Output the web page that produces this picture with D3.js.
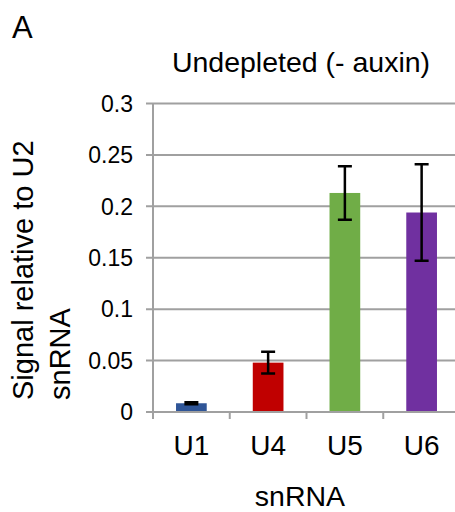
<!DOCTYPE html>
<html lang="en">
<head>
  <meta charset="UTF-8">
  <title>Undepleted (- auxin)</title>
  <script src="https://cdn.jsdelivr.net/npm/d3@7"></script>
  <style>
    body { margin: 0; background: #fff; }
    svg { display: block; font-family: 'Liberation Sans', Arial, sans-serif; }
  </style>
</head>
<body>
  <script>
    // values
    const categories = ["U1", "U4", "U5", "U6"];
    const values = [0.0085, 0.048, 0.213, 0.194];
    const errors = [0.0009, 0.0105, 0.026, 0.047];
    const colors = ["#2f5597", "#c00000", "#70ad47", "#7030a0"];
    const yTicks = [0, 0.05, 0.1, 0.15, 0.2, 0.25, 0.3];
    const yTickLabels = ["0", "0.05", "0.1", "0.15", "0.2", "0.25", "0.3"];

    const width = 455;
    const height = 512;
    const margin = {top: 103.5, right: -5, bottom: 100, left: 153};

    const svg = d3.create("svg")
        .attr("width", width)
        .attr("height", height);

    const x = d3.scaleBand()
        .domain(categories)
        .range([margin.left, width - margin.right])
        .paddingInner(0.6)
        .paddingOuter(0.3);

    const y = d3.scaleLinear()
        .domain([0, 0.3])
        .range([height - margin.bottom, margin.top]);

    const grid = "#a0a0a0";

    // gridlines + y ticks
    svg.append("g")
        .attr("stroke", grid)
        .attr("stroke-width", 2)
      .selectAll("line")
      .data(yTicks)
      .join("line")
        .attr("x1", margin.left - 7)
        .attr("x2", width - margin.right)
        .attr("y1", d => y(d))
        .attr("y2", d => y(d));

    // y axis line
    svg.append("line")
        .attr("stroke", grid)
        .attr("stroke-width", 2)
        .attr("x1", margin.left).attr("x2", margin.left)
        .attr("y1", y(0.3)).attr("y2", y(0) + 7);

    // x ticks between categories
    const bounds = categories.map((c, i) => i === 0 ? margin.left : x(c) - x.step() * x.paddingInner() / 2);
    svg.append("g")
        .attr("stroke", grid)
        .attr("stroke-width", 2)
      .selectAll("line")
      .data(bounds)
      .join("line")
        .attr("x1", d => d).attr("x2", d => d)
        .attr("y1", y(0)).attr("y2", y(0) + 7);

    svg.append("g")
        .attr("font-size", 23)
        .attr("text-anchor", "end")
        .attr("fill", "#000")
      .selectAll("text")
      .data(yTicks)
      .join("text")
        .attr("x", margin.left - 20)
        .attr("y", d => y(d))
        .attr("dy", "0.36em")
        .text((d, i) => yTickLabels[i]);

    // bars
    svg.append("g")
      .selectAll("rect")
      .data(categories)
      .join("rect")
        .attr("x", d => x(d))
        .attr("width", x.bandwidth())
        .attr("y", (d, i) => y(values[i]))
        .attr("height", (d, i) => y(0) - y(values[i]) - 1)
        .attr("fill", (d, i) => colors[i]);

    // error bars
    const eb = svg.append("g")
        .attr("stroke", "#000")
        .attr("stroke-width", 2.5)
        .attr("fill", "none");
    categories.forEach((c, i) => {
      const cx = x(c) + x.bandwidth() / 2;
      const hi = y(values[i] + errors[i]);
      const lo = y(values[i] - errors[i]);
      eb.append("path")
          .attr("d", `M${cx - 7},${hi}H${cx + 7}M${cx},${hi}V${lo}M${cx - 7},${lo}H${cx + 7}`);
    });

    // x tick labels
    svg.append("g")
        .attr("font-size", 28)
        .attr("text-anchor", "middle")
      .selectAll("text")
      .data(categories)
      .join("text")
        .attr("x", d => x(d) + x.bandwidth() / 2)
        .attr("y", 455)
        .text(d => d);

    // titles
    svg.append("text")
        .attr("x", 301)
        .attr("y", 72)
        .attr("font-size", 28.5)
        .attr("text-anchor", "middle")
        .text("Undepleted (- auxin)");

    svg.append("text")
        .attr("x", 300)
        .attr("y", 506)
        .attr("font-size", 28.5)
        .attr("text-anchor", "middle")
        .text("snRNA");

    svg.append("text")
        .attr("x", 12)
        .attr("y", 38)
        .attr("font-size", 31)
        .text("A");

    const yTitle = svg.append("text")
        .attr("transform", "translate(33,400) rotate(-90)")
        .attr("font-size", 29);
    yTitle.append("tspan").attr("x", 0).attr("y", 0).text("Signal relative to U2");
    yTitle.append("tspan").attr("x", 0).attr("y", 37).text("snRNA");

    document.body.appendChild(svg.node());
  </script>
</body>
</html>
